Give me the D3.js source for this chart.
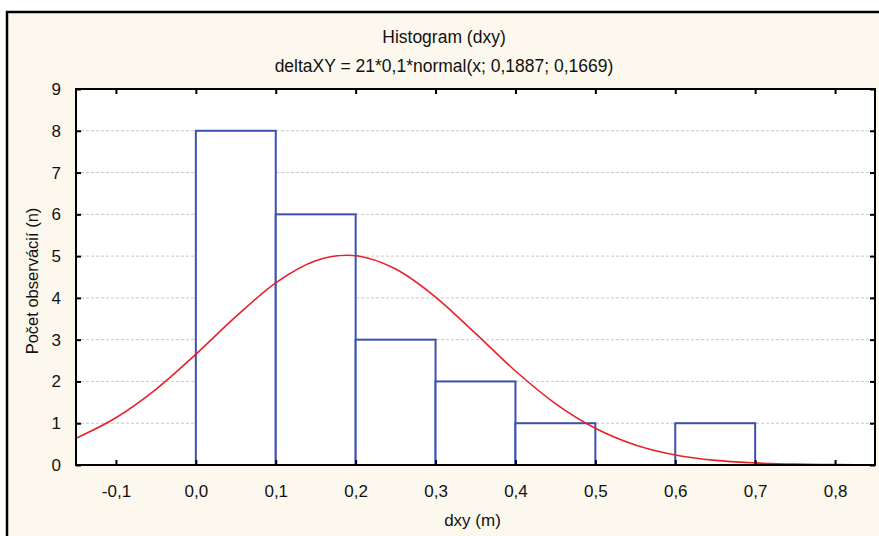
<!DOCTYPE html>
<html>
<head>
<meta charset="utf-8">
<script src="https://cdn.jsdelivr.net/npm/d3@7"></script>
<style>
  body { margin: 0; background: #fff; }
  text { font-family: "Liberation Sans", Arial, sans-serif; fill: #111; }
</style>
</head>
<body>
<svg id="chart"></svg>
<script>
// histogram bins (dxy, m) and counts
const binStarts = [0.0, 0.1, 0.2, 0.3, 0.4, 0.5, 0.6];
const binCounts = [8, 6, 3, 2, 1, 0, 1];
const binWidth = 0.1;

// fitted normal curve
const curveX = [-0.15, -0.1, -0.05, 0.0, 0.05, 0.1, 0.15, 0.19, 0.25, 0.3, 0.35, 0.4, 0.45, 0.5, 0.55, 0.6, 0.65, 0.7, 0.75, 0.8, 0.85];
const curveY = [0.64, 1.13, 1.81, 2.65, 3.55, 4.36, 4.89, 5.02, 4.69, 4.02, 3.15, 2.25, 1.47, 0.88, 0.48, 0.24, 0.11, 0.05, 0.02, 0.01, 0.0];

const xTicks = [-0.1, 0.0, 0.1, 0.2, 0.3, 0.4, 0.5, 0.6, 0.7, 0.8];
const yTicks = [0, 1, 2, 3, 4, 5, 6, 7, 8, 9];
const gridValues = [1, 2, 3, 4, 5, 6, 7, 8];

const title = "Histogram (dxy)";
const subtitle = "deltaXY = 21*0,1*normal(x; 0,1887; 0,1669)";
const xLabel = "dxy (m)";
const yLabel = "Počet observácií (n)";

let width = 879, height = 536;
let margin = { top: 89, bottom: 71, left: 76, right: 4 };
let bodyWidth = width - margin.left - margin.right;
let bodyHeight = height - margin.top - margin.bottom;

let svg = d3.select("#chart").attr("width", width).attr("height", height);

// outer frame
svg.append("rect")
  .attr("x", 7).attr("y", 12)
  .attr("width", 900).attr("height", 600)
  .attr("fill", "#fcf8ee")
  .attr("stroke", "#000")
  .attr("stroke-width", 2.5);

let xScale = d3.scaleLinear().domain([-0.15, 0.85]).range([0, bodyWidth]);
let yScale = d3.scaleLinear().domain([0, 9]).range([bodyHeight, 0]);

let body = svg.append("g").attr("transform", `translate(${margin.left},${margin.top})`);

body.append("rect")
  .attr("width", bodyWidth).attr("height", bodyHeight)
  .attr("fill", "#fff");

// dashed grid
body.selectAll(".grid").data(gridValues).enter()
  .append("line")
  .attr("x1", 0).attr("x2", bodyWidth)
  .attr("y1", d => yScale(d)).attr("y2", d => yScale(d))
  .attr("stroke", "#c8c8c8")
  .attr("stroke-dasharray", "3,2")
  .attr("stroke-width", 1);

// bars
let bins = binStarts.map((s, i) => ({ x0: s, x1: s + binWidth, n: binCounts[i] })).filter(d => d.n > 0);
body.selectAll(".bar").data(bins).enter()
  .append("rect")
  .attr("x", d => xScale(d.x0))
  .attr("y", d => yScale(d.n))
  .attr("width", d => xScale(d.x1) - xScale(d.x0))
  .attr("height", d => yScale(0) - yScale(d.n))
  .attr("fill", "#fff")
  .attr("stroke", "#3a52ad")
  .attr("stroke-width", 2);

// normal curve
body.append("clipPath").attr("id", "clip")
  .append("rect").attr("width", bodyWidth).attr("height", bodyHeight);

let line = d3.line()
  .x((d, i) => xScale(curveX[i]))
  .y(d => yScale(d))
  .curve(d3.curveMonotoneX);

body.append("path")
  .datum(curveY)
  .attr("clip-path", "url(#clip)")
  .attr("d", line)
  .attr("fill", "none")
  .attr("stroke", "#e8202a")
  .attr("stroke-width", 1.6);

// axes: ticks inward on all four sides
let fmt = d => d3.format(".1f")(d).replace(".", ",").replace("−", "-");
let gX = body.append("g").attr("transform", `translate(0,${bodyHeight})`)
  .call(d3.axisBottom(xScale).tickValues(xTicks).tickSize(-5).tickPadding(20).tickFormat(fmt));
let gXt = body.append("g")
  .call(d3.axisTop(xScale).tickValues(xTicks).tickSize(-5).tickFormat(""));
let gY = body.append("g")
  .call(d3.axisLeft(yScale).tickValues(yTicks).tickSize(-5).tickPadding(15).tickFormat(d3.format("d")));
let gYr = body.append("g").attr("transform", `translate(${bodyWidth},0)`)
  .call(d3.axisRight(yScale).tickValues(yTicks).tickSize(-5).tickFormat(""));

[gX, gXt, gY, gYr].forEach(g => {
  g.select(".domain").remove();
  g.selectAll("line").attr("stroke", "#000").attr("stroke-width", 2);
  g.selectAll("text").style("font-size", "17px").attr("fill", "#111")
    .style("font-family", "'Liberation Sans', Arial, sans-serif");
});

body.append("rect")
  .attr("width", bodyWidth).attr("height", bodyHeight)
  .attr("fill", "none").attr("stroke", "#000").attr("stroke-width", 2);

// titles
svg.append("text").attr("x", 444).attr("y", 43)
  .attr("text-anchor", "middle").style("font-size", "17.5px").text(title);
svg.append("text").attr("x", 444).attr("y", 72)
  .attr("text-anchor", "middle").style("font-size", "17.5px").text(subtitle);

svg.append("text")
  .attr("x", margin.left + bodyWidth / 2 - 3).attr("y", 526)
  .attr("text-anchor", "middle").style("font-size", "17px").text(xLabel);

svg.append("text")
  .attr("transform", `translate(38,${margin.top + bodyHeight / 2 + 4}) rotate(-90)`)
  .attr("text-anchor", "middle").style("font-size", "16.5px").text(yLabel);
</script>
</body>
</html>
